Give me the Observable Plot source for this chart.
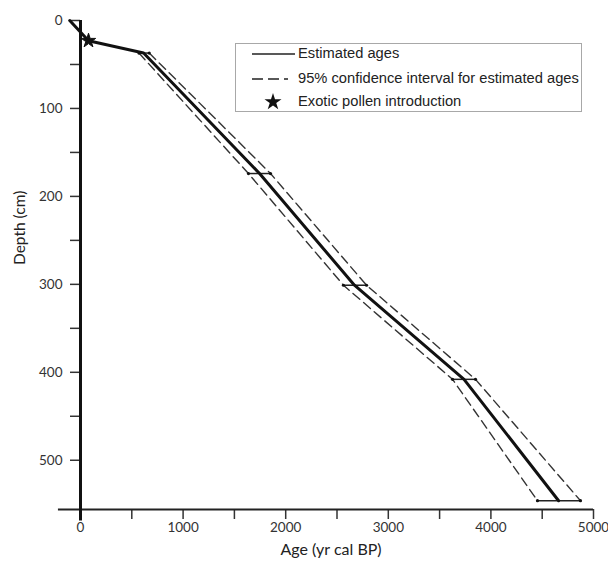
<!DOCTYPE html>
<html><head><meta charset="utf-8">
<script src="https://cdn.jsdelivr.net/npm/d3@7"></script>
<script src="https://cdn.jsdelivr.net/npm/@observablehq/plot@0.6"></script>
<style>
body{margin:0;background:#fff;}
#wrap{position:relative;width:608px;height:562px;}
.legend{position:absolute;left:235px;top:43px;width:347px;height:69px;border:1px solid #a8a8a8;box-sizing:border-box;font-family:"Liberation Sans",Arial,sans-serif;font-size:14.7px;color:#222;}
.row{position:absolute;left:0;height:20px;width:100%;}
.row svg{position:absolute;left:16px;top:0;}
.row span{position:absolute;left:62px;top:1px;white-space:nowrap;}
</style></head><body><div id="wrap"></div>
<script>
// Estimated age-depth model (main line)
const estAges   = [-105, 78, 615, 1745, 2670, 3738, 4660];
const estDepths = [0, 23, 37, 174, 301, 408, 546];
// 95% confidence interval at dated depths
const ciDepths = [37, 174, 301, 408, 546];
const ciLower  = [570, 1637, 2563, 3626, 4454];
const ciUpper  = [670, 1852, 2788, 3850, 4873];
// Exotic pollen introduction
const pollenAges = [78];
const pollenDepths = [23];
// Axes
const xTicks = [0, 500, 1000, 1500, 2000, 2500, 3000, 3500, 4000, 4500, 5000];
const yTicks = [0, 50, 100, 150, 200, 250, 300, 350, 400, 450, 500];
const xLabel = "Age (yr cal BP)";
const yLabel = "Depth (cm)";
const legendLabels = ["Estimated ages", "95% confidence interval for estimated ages", "Exotic pollen introduction"];

const est = estAges.map((a, i) => ({age: a, depth: estDepths[i]}));
const ci = ciDepths.map((d, i) => ({depth: d, lo: ciLower[i], hi: ciUpper[i]}));
const pollen = pollenAges.map((a, i) => ({age: a, depth: pollenDepths[i]}));
const xMinAxis = -215, yMax = 556;

const font = "Lato, 'Open Sans', sans-serif";
const chart = Plot.plot({
  width: 608, height: 562,
  marginLeft: 80, marginRight: 15, marginTop: 20, marginBottom: 53,
  style: {fontFamily: font, background: "#fff"},
  x: {domain: [0, 5000]},
  y: {domain: [0, yMax], reverse: true},
  marks: [
    Plot.axisX({ticks: xTicks, tickFormat: d => d % 1000 === 0 ? String(d) : "", tickSize: 10, tickPadding: 3, fontSize: 13.5, color: "#333", label: null, strokeWidth: 1.5}),
    Plot.axisY({ticks: yTicks, tickFormat: d => d % 100 === 0 ? String(d) : "", tickSize: 10, tickPadding: 8, fontSize: 13.5, color: "#333", label: null, strokeWidth: 1.5}),
    Plot.ruleY([yMax], {x1: xMinAxis, x2: 5000, stroke: "#222", strokeWidth: 2}),
    Plot.ruleX([0], {y1: 0, y2: yMax + 13, stroke: "#111", strokeWidth: 3}),
    Plot.line(ci, {x: "lo", y: "depth", stroke: "#333", strokeWidth: 1.4, strokeDasharray: "9,5"}),
    Plot.line(ci, {x: "hi", y: "depth", stroke: "#333", strokeWidth: 1.4, strokeDasharray: "9,5"}),
    Plot.ruleY(ci, {y: "depth", x1: "lo", x2: "hi", stroke: "#222", strokeWidth: 1.5}),
    Plot.dot(ci, {x: "lo", y: "depth", r: 1.6, fill: "#111"}),
    Plot.dot(ci, {x: "hi", y: "depth", r: 1.6, fill: "#111"}),
    Plot.line(est, {x: "age", y: "depth", stroke: "#111", strokeWidth: 3}),
    Plot.dot(pollen, {x: "age", y: "depth", symbol: "star", r: 4.5, fill: "#111", stroke: "#111", strokeWidth: 1}),
    Plot.text([xLabel], {frameAnchor: "bottom", dy: 45, dx: -6, fontSize: 16, fill: "#222"}),
    Plot.text([yLabel], {frameAnchor: "left", dx: -60, rotate: -90, fontSize: 15.5, fill: "#222"})
  ]
});
const wrap = document.getElementById("wrap");
wrap.appendChild(chart);

// Legend overlay
const lg = document.createElement("div");
lg.className = "legend";
const tops = [0, 25, 48];
const samples = [
  '<svg width="46" height="20"><line x1="0" y1="10" x2="43" y2="10" stroke="#222" stroke-width="1.3"/></svg>',
  '<svg width="46" height="20"><line x1="0" y1="10" x2="43" y2="10" stroke="#222" stroke-width="1.3" stroke-dasharray="11,5,11,5,4"/></svg>',
  '<svg width="46" height="20"><path transform="translate(21,10)" d="' + d3.symbol(d3.symbolStar, 90)() + '" fill="#111"/></svg>'
];
legendLabels.forEach((t, i) => {
  const r = document.createElement("div");
  r.className = "row";
  r.style.top = tops[i] + "px";
  r.innerHTML = samples[i] + "<span>" + t + "</span>";
  lg.appendChild(r);
});
wrap.appendChild(lg);
</script></body></html>
